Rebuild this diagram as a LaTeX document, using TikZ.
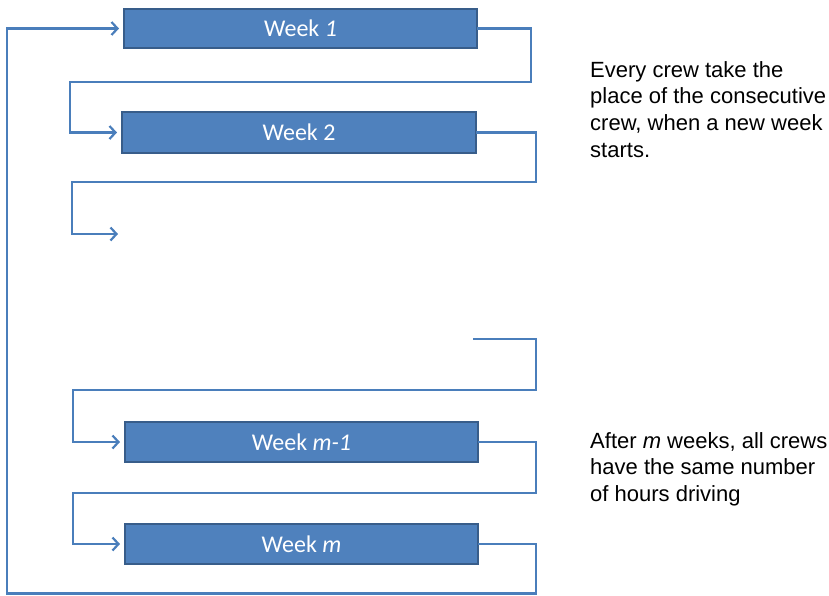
\documentclass[tikz,border=0pt]{standalone}
\usepackage{fontspec}
\setmainfont{Liberation Sans}
\newfontfamily\boxfont{Carlito}
\usetikzlibrary{arrows.meta}
\definecolor{boxfill}{HTML}{4F81BD}
\definecolor{boxline}{HTML}{385D8A}
\definecolor{conncol}{HTML}{4A7EBB}
\tikzset{
  weekbox/.style={draw=boxline, fill=boxfill, line width=1.8pt, text=white,
    font=\boxfont\fontsize{24}{28}\selectfont, inner sep=0pt, outer sep=0pt},
  conn/.style={draw=conncol, line width=2.2pt, line join=miter},
  arr/.style={conn, -{Straight Barb[length=6pt,width=13pt,line width=2.2pt]}},
  note/.style={anchor=north west, align=left, inner sep=0pt,
    font=\fontsize{22}{26.8}\selectfont}
}
\begin{document}
\begin{tikzpicture}[x=1pt,y=-1pt]
\useasboundingbox (0,0) rectangle (829,595);
\node[weekbox, minimum width=353pt, minimum height=39pt] (b1) at (300.5,28.5) {Week \textit{1}};
\node[weekbox, minimum width=354pt, minimum height=41pt] (b2) at (299,132.5) {Week 2};
\node[weekbox, minimum width=353pt, minimum height=40pt] (b3) at (301.5,442) {Week \textit{m-1}};
\node[weekbox, minimum width=353pt, minimum height=40pt] (b4) at (301.5,544) {Week \textit{m}};
\coordinate (free1) at (118,234);
\coordinate (free2) at (473,339);
\draw[arr] (b1.east) -| (531,82) -- (70,82) |- ([xshift=-5pt]b2.west);
\draw[arr] (b2.east) -| (536,182) -- (72,182) |- (free1);
\draw[arr] (free2) -| (536,390) -- (73,390) |- ([xshift=-5pt]b3.west);
\draw[arr] (b3.east) -| (536,493) -- (73,493) |- ([xshift=-5pt]b4.west);
\draw[arr] (b4.east) -| (536,593.5) -- (7,593.5) |- ([xshift=-5pt]b1.west);
\node[note] (t1) at (590,61) {Every crew take the\\place of the consecutive\\crew, when a new week\\starts.};
\node[note] (t2) at (590,432) {After \textit{m} weeks, all crews\\have the same number\\of hours driving};
\end{tikzpicture}
\end{document}
